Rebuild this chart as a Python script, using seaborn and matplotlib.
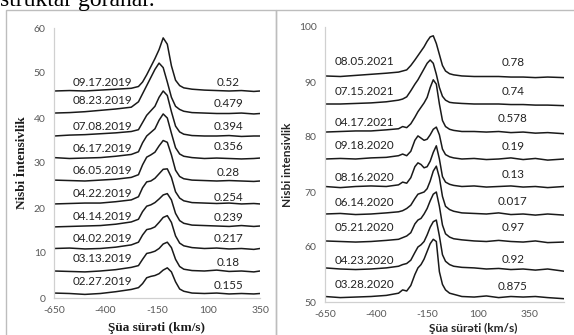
import matplotlib
matplotlib.use("Agg")
import matplotlib.pyplot as plt
import seaborn as sns
from matplotlib.patches import Rectangle

# ---- left panel (2019) ----
xL = [-650, -575, -500, -425, -350, -275, -240, -220, -200, -180, -160, -140, -120,
      -100, -80, -60, -40, -20, 20, 80, 140, 200, 260, 320, 350]

left_dates = ["02.27.2019", "03.13.2019", "04.02.2019", "04.14.2019", "04.22.2019",
              "06.05.2019", "06.17.2019", "07.08.2019", "08.23.2019", "09.17.2019"]
left_vals = ["0.155", "0.18", "0.217", "0.239", "0.254", "0.28", "0.356", "0.394", "0.479", "0.52"]
left_date_y = [3.6, 8.7, 13.3, 18.2, 23.3, 28.4, 33.3, 38.2, 43.8, 48.0]
left_val_y = [2.7, 7.8, 13.3, 17.8, 22.4, 28.0, 33.6, 38.0, 43.3, 48.0]

left_curves = [
    [1.1, 1.0, 0.8, 1.0, 1.4, 1.9, 2.3, 3.2, 4.5, 4.8, 5.0, 5.4, 6.2, 6.7, 5.8, 3.6, 2.0, 1.5, 1.1, 1.0, 1.1, 0.9, 1.0, 0.9, 1.0],
    [6.0, 5.9, 5.8, 6.0, 6.3, 6.8, 7.2, 8.6, 9.9, 10.1, 10.4, 11.0, 12.0, 12.4, 11.2, 8.6, 7.0, 6.4, 6.1, 6.0, 6.2, 5.9, 6.0, 5.8, 6.0],
    [11.0, 11.1, 10.9, 11.0, 11.3, 11.8, 12.4, 14.0, 15.2, 15.4, 15.8, 16.8, 17.9, 18.3, 16.8, 13.8, 12.2, 11.6, 11.2, 11.0, 11.1, 10.9, 11.0, 10.8, 11.0],
    [15.8, 15.9, 16.0, 16.1, 16.4, 16.9, 17.5, 19.2, 20.4, 20.7, 21.2, 22.0, 22.9, 23.2, 21.8, 18.8, 17.2, 16.6, 16.2, 16.1, 16.0, 15.9, 16.1, 15.9, 16.0],
    [20.9, 21.0, 21.1, 21.1, 21.4, 21.8, 22.5, 24.5, 25.8, 26.0, 26.6, 27.6, 28.6, 28.7, 26.8, 23.6, 22.2, 21.6, 21.2, 21.1, 21.0, 21.1, 20.9, 21.0, 20.9],
    [26.2, 26.1, 26.0, 26.2, 26.4, 26.8, 27.4, 29.6, 31.3, 31.8, 32.4, 33.8, 35.0, 34.6, 31.8, 28.4, 27.0, 26.5, 26.2, 26.1, 26.0, 26.1, 26.0, 25.9, 26.0],
    [31.2, 31.0, 31.1, 31.2, 31.5, 31.9, 32.5, 34.5, 36.0, 36.8, 37.6, 39.5, 40.9, 40.0, 36.6, 33.4, 32.0, 31.5, 31.2, 31.0, 31.1, 31.0, 30.9, 31.0, 31.1],
    [36.0, 36.2, 36.3, 36.5, 36.7, 37.0, 37.4, 39.0, 40.6, 41.6, 42.6, 44.6, 46.0, 45.0, 41.4, 38.2, 36.9, 36.4, 36.1, 36.0, 36.0, 36.1, 35.9, 36.0, 36.0],
    [41.1, 41.2, 41.4, 41.7, 42.0, 42.4, 43.6, 45.4, 47.2, 49.0, 50.8, 52.2, 51.2, 48.0, 44.6, 42.6, 41.9, 41.5, 41.2, 41.1, 41.0, 41.0, 41.1, 40.9, 41.0],
    [46.0, 46.1, 46.0, 46.2, 46.4, 46.6, 47.0, 48.0, 49.6, 51.4, 53.2, 55.2, 57.8, 56.4, 51.6, 48.4, 47.2, 46.7, 46.4, 46.2, 46.1, 46.0, 46.1, 45.9, 46.0],
]

# ---- right panel (2020-2021) ----
xR = [-650, -575, -500, -425, -350, -290, -270, -250, -230, -210, -195, -180, -165, -150,
      -135, -120, -105, -90, -75, -60, -40, -20, 20, 80, 140, 200, 260, 320, 380, 440, 520]

right_dates = ["03.28.2020", "04.23.2020", "05.21.2020", "06.14.2020", "08.16.2020",
               "09.18.2020", "04.17.2021", "07.15.2021", "08.05.2021"]
right_vals = ["0.875", "0.92", "0.97", "0.017", "0.13", "0.19", "0.578", "0.74", "0.78"]
right_date_y = [53.1, 57.6, 63.5, 68.0, 72.7, 78.4, 82.7, 88.2, 93.8]
right_val_y = [52.9, 57.8, 63.5, 68.2, 73.1, 78.2, 83.4, 88.2, 93.5]

right_curves = [
    [51.0, 50.8, 50.9, 51.0, 51.2, 51.6, 52.2, 52.0, 53.0, 55.0, 56.2, 56.8, 57.8, 59.2, 60.6, 61.4, 61.0, 55.5, 53.2, 52.2, 51.6, 51.4, 51.0, 50.9, 51.1, 50.8, 51.0, 50.9, 51.0, 50.8, 50.6],
    [56.2, 56.0, 55.9, 56.0, 56.2, 56.5, 56.8, 57.0, 57.6, 59.0, 60.0, 60.4, 61.0, 62.2, 63.6, 64.6, 64.9, 62.0, 58.6, 57.4, 56.8, 56.5, 56.3, 56.2, 56.0, 56.1, 55.9, 56.0, 55.8, 56.0, 55.6],
    [61.1, 61.0, 60.9, 61.0, 61.2, 61.4, 61.7, 62.0, 62.6, 64.2, 64.9, 65.2, 66.0, 67.0, 68.4, 69.6, 70.0, 67.4, 64.0, 62.4, 61.8, 61.5, 61.3, 61.1, 61.0, 61.2, 61.0, 60.9, 61.1, 60.8, 60.9],
    [66.0, 66.1, 65.9, 66.0, 66.2, 66.4, 66.6, 67.0, 67.6, 68.8, 69.6, 69.8, 70.0, 70.6, 72.0, 73.8, 74.7, 72.6, 69.2, 67.4, 66.8, 66.5, 66.2, 66.1, 66.0, 66.2, 65.9, 66.0, 65.8, 66.0, 65.8],
    [71.0, 70.8, 71.0, 71.1, 71.0, 71.3, 71.8, 71.6, 72.6, 74.6, 75.3, 75.0, 74.4, 74.6, 75.6, 77.2, 78.4, 76.0, 72.8, 71.8, 71.4, 71.2, 71.0, 71.1, 70.9, 71.0, 71.1, 70.9, 71.0, 70.8, 71.0],
    [76.0, 76.1, 76.0, 76.2, 76.3, 76.6, 76.9, 76.6, 77.4, 79.4, 80.2, 79.8, 79.4, 79.6, 80.4, 81.4, 81.8, 80.4, 77.8, 76.8, 76.4, 76.2, 76.0, 76.1, 75.9, 76.0, 76.2, 75.9, 76.1, 75.8, 76.0],
    [80.9, 81.0, 81.1, 81.1, 81.3, 81.5, 81.9, 81.7, 82.4, 83.6, 84.6, 85.4, 86.2, 87.2, 89.0, 90.4, 89.6, 86.0, 83.0, 81.9, 81.4, 81.2, 81.0, 81.0, 80.9, 81.0, 80.8, 80.9, 80.7, 80.8, 80.6],
    [86.0, 86.0, 86.1, 86.2, 86.4, 86.7, 86.9, 87.3, 88.4, 89.6, 90.4, 91.4, 92.4, 93.4, 94.0, 93.4, 91.4, 89.0, 87.4, 86.7, 86.3, 86.2, 86.1, 86.0, 86.0, 86.0, 85.9, 85.9, 85.8, 85.8, 85.7],
    [91.1, 91.0, 91.2, 91.4, 91.6, 91.8, 92.0, 92.2, 93.0, 94.0, 94.8, 95.6, 96.4, 97.4, 98.2, 98.4, 97.0, 95.0, 93.0, 92.0, 91.5, 91.3, 91.1, 91.0, 91.0, 91.0, 90.9, 90.9, 90.8, 90.9, 90.8],
]

xticks = [-650, -400, -150, 100, 350]

sns.set_style("white")
plt.rcParams['font.family'] = ['Lato', 'DejaVu Sans']
plt.rcParams['axes.unicode_minus'] = False

W, H = 574, 335
fig = plt.figure(figsize=(W / 100, H / 100), dpi=100)

# panel frames and the clipped caption line above them
fig.patches.append(Rectangle((6 / W, -0.1), 270 / W, 1.1 - 9.5 / H, transform=fig.transFigure,
                             fill=False, edgecolor='#bdbdbd', lw=1))
fig.patches.append(Rectangle((276 / W, -0.1), 310 / W, 1.1 - 9.5 / H, transform=fig.transFigure,
                             fill=False, edgecolor='#bdbdbd', lw=1))
fig.text(0.0, 1 - 6 / H, "struktar göranar.", family='Liberation Serif', fontsize=17,
         va='baseline', ha='left', color='black')

axL = fig.add_axes([54 / W, 37 / H, 206 / W, 270 / H])
axR = fig.add_axes([325 / W, 33 / H, 239 / W, 275 / H])

for vals in left_curves:
    sns.lineplot(x=xL, y=vals, ax=axL, color='#1a1a1a', lw=1.1)
for vals in right_curves:
    sns.lineplot(x=xR, y=vals, ax=axR, color='#1a1a1a', lw=1.1)

for d, v, dy, vy in zip(left_dates, left_vals, left_date_y, left_val_y):
    axL.text(-417, dy, d, ha='center', va='center', fontsize=8.4, color='#222222')
    axL.text(195, vy, v, ha='center', va='center', fontsize=8.4, color='#222222')
for d, v, dy, vy in zip(right_dates, right_vals, right_date_y, right_val_y):
    axR.text(-459, dy, d, ha='center', va='center', fontsize=8.4, color='#222222')
    axR.text(270, vy, v, ha='center', va='center', fontsize=8.4, color='#222222')

axL.set_xlim(-650, 350)
axL.set_ylim(0, 60)
axL.set_yticks(range(0, 61, 10))
axR.set_xlim(-650, 520)
axR.set_ylim(50, 100)
axR.set_yticks(range(50, 101, 10))

for ax in (axL, axR):
    ax.set_xticks(xticks)
    sns.despine(ax=ax)
    for s in ('left', 'bottom'):
        ax.spines[s].set_color('#d0d0d0')
        ax.spines[s].set_linewidth(0.9)
    ax.tick_params(axis='both', direction='out', length=3, width=0.8, color='#d0d0d0',
                   labelsize=7.5, labelcolor='#595959', pad=3)
    ax.set_facecolor('none')

axL.set_xlabel("Şüa sürəti (km/s)", family='Liberation Serif', fontweight='bold',
               fontsize=9.5, color='#1a1a1a')
axL.set_ylabel("Nisbi İntensivlik", family='Liberation Serif', fontweight='bold',
               fontsize=9.5, color='#1a1a1a')
axL.xaxis.set_label_coords(0.5, -0.09)
axL.yaxis.set_label_coords(-0.125, 0.5)

axR.set_xlabel("Şüa sürəti (km/s)", fontweight='bold', fontsize=8.6, color='#262626')
axR.set_ylabel("Nisbi intensivlik", fontweight='bold', fontsize=8.6, color='#262626')
axR.xaxis.set_label_coords(0.62, -0.078)
axR.yaxis.set_label_coords(-0.135, 0.5)

fig.savefig("out.png", dpi=100)
